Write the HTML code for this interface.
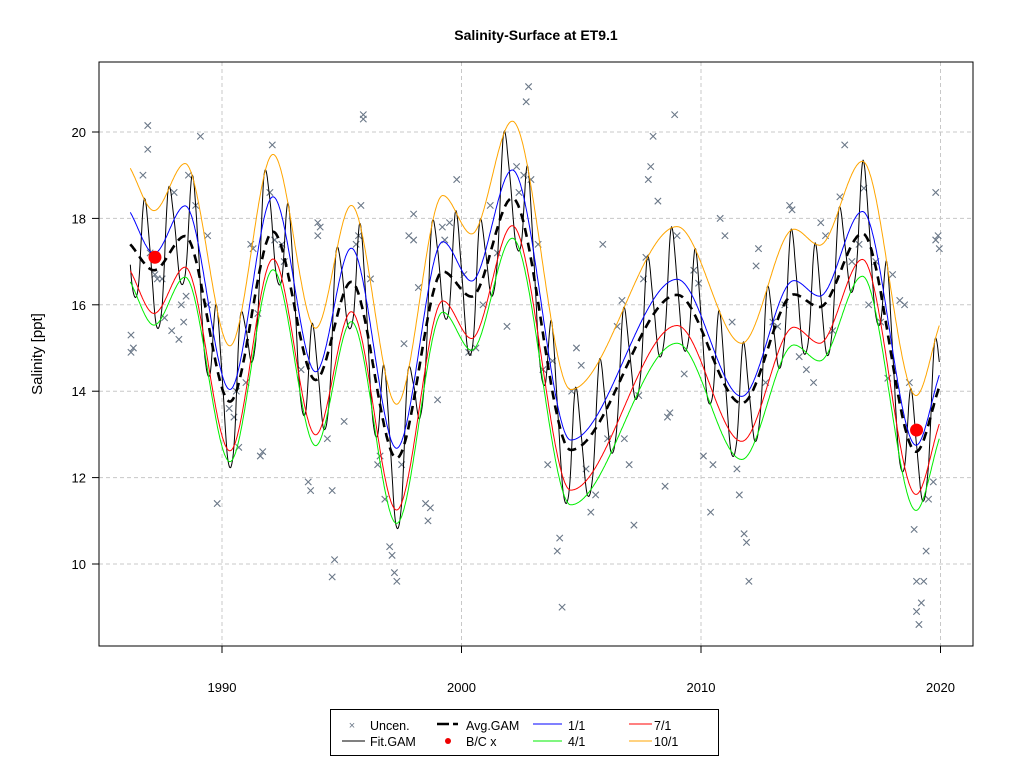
<!DOCTYPE html>
<html><head><meta charset="utf-8"><style>
body{margin:0;background:#fff}
svg{display:block;font-family:"Liberation Sans",Arial,sans-serif}
</style></head><body>
<svg id="chart" width="1024" height="768" viewBox="0 0 1024 768">
<rect x="0" y="0" width="1024" height="768" fill="#fff"/>
<text x="536" y="40" text-anchor="middle" font-weight="bold" font-size="14">Salinity-Surface at ET9.1</text>
<text transform="translate(42,354) rotate(-90)" text-anchor="middle" font-size="15">Salinity [ppt]</text>
<g id="grid"></g>
<g id="axes"></g>
<g id="plot"></g>
<rect x="99" y="62" width="874" height="584" fill="none" stroke="#000"/>
<g>
<rect x="330.5" y="709.5" width="388" height="46" fill="#fff" stroke="#000"/>
<g font-size="12.5">
<text x="352" y="729" text-anchor="middle" fill="#6b7888" font-size="11">×</text>
<text x="370" y="730">Uncen.</text>
<line x1="342" y1="741" x2="365" y2="741" stroke="#000"/>
<text x="370" y="746">Fit.GAM</text>
<line x1="437" y1="724" x2="458" y2="724" stroke="#000" stroke-width="2.5" stroke-dasharray="12,4"/>
<text x="466" y="730">Avg.GAM</text>
<circle cx="448" cy="741" r="3" fill="#e00"/>
<text x="466" y="746">B/C x</text>
<line x1="533" y1="724" x2="562" y2="724" stroke="#00f"/>
<text x="568" y="730">1/1</text>
<line x1="533" y1="741" x2="562" y2="741" stroke="#0e0"/>
<text x="568" y="746">4/1</text>
<line x1="629" y1="724" x2="652" y2="724" stroke="#f00"/>
<text x="654" y="730">7/1</text>
<line x1="629" y1="741" x2="652" y2="741" stroke="#ffa500"/>
<text x="654" y="746">10/1</text>
</g></g>
</svg>
<script>
const xTicks=[1990,2000,2010,2020];
const yTicks=[10,12,14,16,18,20];
const knotYears=[1986.17,1987.16,1988.46,1990.33,1992.13,1993.91,1995.4,1997.29,1999.22,2000.42,2002.12,2004.56,2009.0,2011.7,2013.88,2014.95,2016.74,2018.98,2019.95];
const sJan=[18.14,17.19,18.29,14.04,18.5,14.45,17.31,12.68,17.46,16.55,19.12,12.87,16.59,13.88,16.56,16.2,18.16,12.75,14.37];
const sApr=[16.53,15.53,16.64,12.37,16.81,12.74,15.61,10.94,15.83,14.95,17.54,11.37,15.11,12.42,15.07,14.7,16.66,11.24,12.9];
const sJul=[16.79,15.8,16.87,12.62,17.06,12.99,15.84,11.25,16.09,15.22,17.83,11.71,15.52,12.84,15.48,15.11,17.05,11.61,13.24];
const sOct=[19.16,18.18,19.27,15.05,19.48,15.46,18.3,13.7,18.53,17.64,20.25,14.04,17.81,15.11,17.75,17.38,19.32,13.9,15.52];
const sAvg=[17.4,16.8,17.59,13.76,17.69,14.26,16.53,12.45,16.77,16.19,18.47,12.64,16.23,13.72,16.24,15.95,17.65,12.6,14.1];
const bcYears=[1987.2,2019.0];
const bcValues=[17.1,13.1];
const obsYears=[1986.2,1986.2,1986.3,1986.9,1986.9,1986.7,1987.0,1987.2,1987.3,1987.6,1987.5,1987.9,1988.0,1988.3,1988.2,1988.5,1988.4,1988.6,1988.9,1989.1,1989.4,1989.4,1989.8,1990.3,1990.6,1990.5,1990.7,1991.0,1991.2,1991.3,1991.5,1991.6,1991.7,1992.1,1992.0,1992.2,1992.5,1992.6,1993.3,1993.6,1993.7,1994.0,1994.0,1994.1,1994.4,1994.6,1994.7,1994.6,1995.1,1995.6,1995.7,1995.8,1995.9,1995.9,1996.2,1996.5,1996.6,1996.8,1997.0,1997.1,1997.2,1997.3,1997.5,1997.6,1997.8,1998.0,1998.0,1998.2,1998.5,1998.6,1998.7,1999.0,1999.2,1999.3,1999.5,1999.8,2000.1,2000.3,2000.6,2000.9,2001.2,2001.5,2001.9,2002.3,2002.4,2002.6,2002.7,2002.8,2002.9,2003.2,2003.4,2003.6,2003.8,2004.0,2004.1,2004.2,2004.6,2004.8,2005.0,2005.2,2005.4,2005.6,2005.9,2006.1,2006.5,2006.7,2006.8,2007.0,2007.2,2007.4,2007.6,2007.7,2007.8,2007.9,2008.0,2008.2,2008.5,2008.6,2008.7,2008.9,2009.0,2009.3,2009.7,2009.9,2010.1,2010.4,2010.5,2010.8,2011.0,2011.3,2011.5,2011.6,2011.8,2011.9,2012.0,2012.3,2012.4,2012.7,2013.0,2013.2,2013.5,2013.7,2013.8,2014.1,2014.4,2014.7,2015.0,2015.2,2015.5,2015.8,2016.0,2016.3,2016.6,2016.8,2017.0,2017.3,2017.5,2017.8,2018.0,2018.3,2018.5,2018.7,2018.9,2019.0,2019.0,2019.1,2019.2,2019.3,2019.4,2019.5,2019.7,2019.8,2019.9,2019.8,2019.95];
const obsValues=[15.3,14.9,15.0,20.15,19.6,19.0,17.2,16.7,16.6,15.7,16.6,15.4,18.6,16.0,15.2,16.2,15.6,19.0,18.3,19.9,17.6,16.0,11.4,13.6,14.0,13.4,12.7,14.2,17.4,17.3,15.8,12.5,12.6,19.7,18.6,17.5,17.4,17.0,14.5,11.9,11.7,17.6,17.9,17.8,12.9,11.7,10.1,9.7,13.3,17.4,17.6,18.3,20.4,20.3,16.6,12.3,12.5,11.5,10.4,10.2,9.8,9.6,12.3,15.1,17.6,18.1,17.5,16.4,11.4,11.0,11.3,13.8,17.8,17.5,17.9,18.9,16.7,14.9,15.0,16.0,18.3,17.2,15.5,19.2,18.6,19.0,20.7,21.05,18.9,17.4,14.5,12.3,14.7,10.3,10.6,9.0,14.0,15.0,14.6,12.2,11.2,11.6,17.4,12.9,15.5,16.1,12.9,12.3,10.9,13.9,16.6,17.1,18.9,19.2,19.9,18.4,11.8,13.4,13.5,20.4,17.6,14.4,16.8,16.5,12.5,11.2,12.3,18.0,17.6,15.6,12.2,11.6,10.7,10.5,9.6,16.9,17.3,14.2,15.6,15.5,16.0,18.3,18.2,14.8,14.5,14.2,17.9,17.6,15.4,18.5,19.7,17.0,17.4,18.7,16.0,17.0,15.6,14.3,16.7,16.1,16.0,14.2,10.8,9.6,8.9,8.6,9.1,9.6,10.3,11.5,11.9,17.5,17.6,18.6,17.3];

const X=y=>222+(y-1990)*23.95;
const Y=v=>132+(20-v)*43.2;
const NS='http://www.w3.org/2000/svg';
function mk(tag,attrs,parent){const e=document.createElementNS(NS,tag);for(const k in attrs)e.setAttribute(k,attrs[k]);parent.appendChild(e);return e;}
// monotone cubic interpolation
function interp(xs,ys){
  const n=xs.length,d=[],m=[];
  for(let i=0;i<n-1;i++)d.push((ys[i+1]-ys[i])/(xs[i+1]-xs[i]));
  m[0]=d[0];m[n-1]=d[n-2];
  for(let i=1;i<n-1;i++)m[i]=(d[i-1]*d[i]<=0)?0:(d[i-1]+d[i])/2;
  return t=>{let i=0;while(i<n-2&&t>xs[i+1])i++;
    const h=xs[i+1]-xs[i],s=(t-xs[i])/h,s2=s*s,s3=s2*s;
    return (2*s3-3*s2+1)*ys[i]+(s3-2*s2+s)*h*m[i]+(-2*s3+3*s2)*ys[i+1]+(s3-s2)*h*m[i+1];};
}
const grid=document.getElementById('grid'),axes=document.getElementById('axes'),plot=document.getElementById('plot');
xTicks.forEach(t=>{
  const g=mk('line',{x1:X(t),x2:X(t),y1:62,y2:646,stroke:'#c8c8c8','stroke-dasharray':'4,3'},grid);
  
  
  const tk=mk('line',{x1:X(t),x2:X(t),y1:646,y2:653,stroke:'#000'},axes);
  
  
  const lb=mk('text',{x:X(t),y:692,'text-anchor':'middle','font-size':'13'},axes);lb.textContent=t;
  
  
});
yTicks.forEach(t=>{
  const g=mk('line',{x1:99,x2:973,y1:Y(t),y2:Y(t),stroke:'#c8c8c8','stroke-dasharray':'4,3'},grid);
  
  
  const tk=mk('line',{x1:92,x2:99,y1:Y(t),y2:Y(t),stroke:'#000'},axes);
  
  
  const lb=mk('text',{x:86,y:Y(t)+5,'text-anchor':'end','font-size':'13'},axes);lb.textContent=t;
  
  
});
// scatter
obsYears.forEach((yr,i)=>{
  const x=X(yr),y=Y(obsValues[i]),r=3.2;
  const p=mk('path',{d:`M${x-r},${y-r}L${x+r},${y+r}M${x-r},${y+r}L${x+r},${y-r}`,stroke:'#6b7888','stroke-width':'1.1'},plot);
  
  
});
const fJan=interp(knotYears,sJan),fApr=interp(knotYears,sApr),fJul=interp(knotYears,sJul),fOct=interp(knotYears,sOct),fAvg=interp(knotYears,sAvg);
const t0=knotYears[0],t1=knotYears[knotYears.length-1];
function curvePath(f){let d='';for(let t=t0;t<=t1+1e-9;t+=0.02)d+=(d?'L':'M')+X(t).toFixed(1)+','+Y(f(t)).toFixed(1);return d;}
// Fit.GAM: seasonal interpolation through Jan/Apr/Jul/Oct curves
function fit(t){
  const fr=t-Math.floor(t),q=fr*4,k=Math.floor(q),s=q-k;
  const vals=[fJan(t),fApr(t),fJul(t),fOct(t)];
  const p0=vals[(k+3)%4],p1=vals[k%4],p2=vals[(k+1)%4],p3=vals[(k+2)%4];
  return 0.5*((2*p1)+(-p0+p2)*s+(2*p0-5*p1+4*p2-p3)*s*s+(-p0+3*p1-3*p2+p3)*s*s*s);
}
const fl=mk('path',{d:curvePath(fit),fill:'none',stroke:'#000','stroke-width':'1'},plot);


[[fJan,'#00f','jan-line'],[fApr,'#0e0','apr-line'],[fJul,'#f00','jul-line'],[fOct,'#ffa500','oct-line']].forEach(([f,c,n])=>{
  const p=mk('path',{d:curvePath(f),fill:'none',stroke:c,'stroke-width':'1'},plot);
  
  
});
const av=mk('path',{d:curvePath(fAvg),fill:'none',stroke:'#000','stroke-width':'2.6','stroke-dasharray':'9,6'},plot);


bcYears.forEach((yr,i)=>{
  const c=mk('circle',{cx:X(yr),cy:Y(bcValues[i]),r:6.5,fill:'#f00'},plot);
  
  
});
</script>
</body></html>
